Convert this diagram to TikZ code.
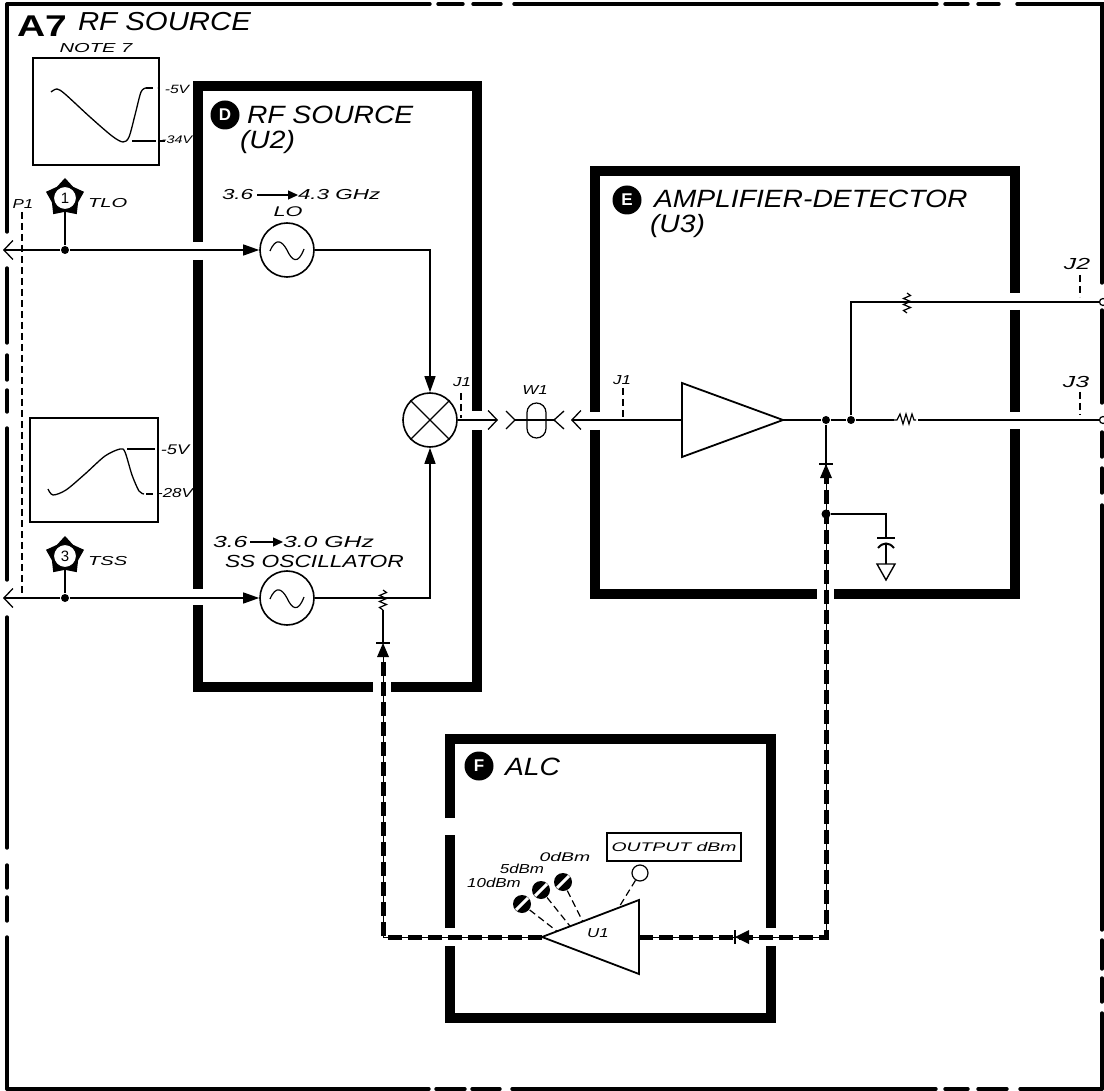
\documentclass[tikz,border=0pt]{standalone}
\usepackage{fontspec}
\setsansfont{Liberation Sans}
\newfontfamily\titlefont[FakeStretch=1.13]{Liberation Sans}
\newfontfamily\letterfont[FakeStretch=1.3]{Liberation Sans}
\newfontfamily\widefont[FakeStretch=1.55]{Liberation Sans}
\usetikzlibrary{arrows.meta, calc, shapes.geometric}
\newcommand{\lettering}[1]{\letterfont\itshape\fontsize{#1}{#1}\selectfont}
\newcommand{\titling}[1]{\titlefont\itshape\fontsize{#1}{#1}\selectfont}
\newcommand{\wideletter}[1]{\widefont\itshape\fontsize{#1}{#1}\selectfont}
\tikzset{
  every picture/.style={line width=1.3pt},
  lbl/.style={font=\lettering{#1}, inner sep=0pt, outer sep=0pt, align=left},
  lbl/.default=14,
  ttl/.style={font=\titling{#1}, inner sep=0pt, outer sep=0pt, align=left},
  wlbl/.style={font=\wideletter{#1}, inner sep=0pt, outer sep=0pt, align=left},
  frameline/.style={line width=3.4pt, line cap=round},
  wall/.style={line width=10pt},
  sig/.style={line width=1.3pt},
  tip/.style={-{Triangle[length=16pt, width=11pt]}},
  barb/.style={-{Straight Barb[length=9pt, width=19pt, line width=1.3pt]}},
  freqarrow/.style={line width=1.3pt, -{Triangle[length=10pt, width=9pt]}},
  probe/.style={line width=1.2pt, dash pattern=on 7pt off 4pt},
  alcline/.style={line width=1pt, postaction={draw, line width=5pt, dash pattern=on 14pt off 6pt}},
  dot/.style={circle, fill=black, inner sep=0pt, minimum size=8pt},
  osc/.style={circle, draw, line width=1.6pt, fill=white, inner sep=0pt, minimum size=54pt},
  badge/.style={circle, fill=black, text=white, inner sep=0pt, minimum size=#1, font=\sffamily\bfseries\fontsize{17}{17}\selectfont},
  badge/.default=29pt,
  scopebox/.style={draw, line width=1.5pt, inner sep=0pt},
  ampshape/.style={draw, line width=1.8pt, isosceles triangle, isosceles triangle stretches, inner sep=0pt, outer sep=0pt},
  tpstar/.style={star, star points=5, star point ratio=1.45, fill=black, inner sep=0pt, minimum size=40pt},
  tpface/.style={circle, draw, fill=white, line width=1pt, inner sep=0pt, minimum size=23pt, font=\sffamily\fontsize{15}{15}\selectfont},
  screw/.style={circle, fill=black, inner sep=0pt, minimum size=18pt},
}
% small parts that sit on a line
\newcommand{\vresistor}[2]{
  \draw[line width=1.2pt, fill=none] (#1,#2-10) -- ++(3.5,2.5) -- ++(-7,3) -- ++(7,3) -- ++(-7,3) -- ++(7,3) -- ++(-7,3) -- ++(3.5,2.5);
}
\newcommand{\oscwave}[1]{
  \draw[line width=1.2pt] ($(#1)+(-17,1)$) .. controls ($(#1)+(-11,-13)$) and ($(#1)+(-5,-9)$) .. (#1.center) .. controls ($(#1)+(5,11)$) and ($(#1)+(11,15)$) .. ($(#1)+(17,-1)$);
}
\newcommand{\diodeup}[2]{
  \fill (#1-6,#2+14) -- (#1,#2) -- (#1+6,#2+14) -- cycle;
  \draw[line width=1.2pt] (#1-7,#2) -- (#1+7,#2);
}

\begin{document}
\begin{tikzpicture}[x=1pt, y=-1pt]
  \useasboundingbox (0,0) rectangle (1104,1091);
  % outer assembly frame
  \foreach \a/\b in {7/430, 438/463, 473/501, 514/937, 945/968, 978/999, 1017/1104}
    { \draw[frameline] (\a,4) -- (\b,4); }
  \foreach \a/\b in {7/429, 436/465, 472/500, 512/936, 945/968, 978/1007, 1020/1102}
    { \draw[frameline] (\a,1089) -- (\b,1089); }
  \foreach \a/\b in {4/232, 268/343, 355/380, 390/412, 428/580, 617/848, 865/888, 897/921, 937/1089}
    { \draw[frameline] (7,\a) -- (7,\b); }
  \foreach \a/\b in {4/283, 310/403, 432/457, 468/493, 505/930, 940/969, 978/1002, 1013/1089}
    { \draw[frameline] (1102,\a) -- (1102,\b); }
  \node[font=\letterfont\bfseries\fontsize{30}{30}\selectfont, inner sep=0pt] (titlea) at (42,26) {A7};
  \node[ttl=26, anchor=west] (titlesrc) at (78,22) {RF SOURCE};
  % walls of the three modules
  \draw[wall] (198,242) -- (198,86) -- (476.5,86) -- (476.5,411);
  \draw[wall] (198,260) -- (198,589);
  \draw[wall] (198,605) -- (198,687) -- (373,687);
  \draw[wall] (391,687) -- (476.5,687) -- (476.5,430);
  \draw[wall] (595,412) -- (595,171) -- (1015,171) -- (1015,293);
  \draw[wall] (1015,310) -- (1015,412);
  \draw[wall] (595,430) -- (595,594) -- (817,594);
  \draw[wall] (834,594) -- (1015,594) -- (1015,429);
  \draw[wall] (450,818) -- (450,739) -- (771,739) -- (771,928);
  \draw[wall] (450,835) -- (450,928);
  \draw[wall] (450,946) -- (450,1018) -- (771,1018) -- (771,946);
  % module names
  \node[badge] (badged) at (225,115) {D};
  \node[ttl=25, anchor=west] (named) at (247,115) {RF SOURCE};
  \node[ttl=25, anchor=west] (namedu) at (240,142) {(U2)};
  \node[badge] (badgee) at (627,200) {E};
  \node[ttl=25, anchor=west] (namee) at (654,199) {AMPLIFIER-DETECTOR};
  \node[ttl=25, anchor=west] (nameeu) at (650,226) {(U3)};
  \node[badge] (badgef) at (479,766) {F};
  \node[ttl=25, anchor=west] (namef) at (505,767) {ALC};
  % scope traces
  \node[wlbl=13] (notes) at (96,48) {NOTE 7};
  \node[scopebox, minimum width=126pt, minimum height=107pt] (scopetlo) at (96,111.5) {};
  \draw plot[smooth] coordinates {(51,92) (57,89) (65,94) (90,117) (112,136) (123,142) (129,137) (135,115) (141,92) (146,88)};
  \draw[probe] (146,88) -- (157,88);
  \draw (132,141) -- (156,141);
  \draw[line width=1.2pt] (160,141) -- (165,141);
  \node[lbl=12] (vhi) at (177,89) {-5V};
  \node[lbl=11] (vlo) at (177,140) {-34V};
  \node[scopebox, minimum width=128pt, minimum height=104pt] (scopetss) at (94,470) {};
  \draw plot[smooth] coordinates {(48,489) (53,495) (66,490) (85,474) (105,456) (120,449) (125,452) (132,475) (139,491) (144,494)};
  \draw[probe] (146,494) -- (156,494);
  \draw (127,449) -- (155,449);
  \node[lbl=14] (vhb) at (175,450) {-5V};
  \node[lbl=13] (vlb) at (175,493) {-28V};
  % oscillators and mixer
  \node[osc] (lo) at (287,250) {};
  \node[osc] (ss) at (287,598) {};
  \node[osc] (mixer) at (430,420) {};
  \oscwave{lo}
  \oscwave{ss}
  \draw[line width=1.2pt] (mixer.45) -- (mixer.225) (mixer.135) -- (mixer.315);
  \node[wlbl=14.5, anchor=west] (lofa) at (222,195) {3.6};
  \node[wlbl=14.5, anchor=west] (lofb) at (298,195) {4.3 GHz};
  \draw[freqarrow] (lofa.east) ++(4,0) -- (lofb.west);
  \node[wlbl=14] (lolbl) at (288,212) {LO};
  \node[wlbl=16, anchor=west] (ssfa) at (213,542) {3.6};
  \node[wlbl=16, anchor=west] (ssfb) at (283,542) {3.0 GHz};
  \draw[freqarrow] (ssfa.east) ++(3,0) -- (ssfb.west);
  \node[lbl=17.5, anchor=west] (sslbl) at (225,561) {SS OSCILLATOR};
  % test points and the P1 cable
  \node[lbl=13] (pone) at (23,204) {P1};
  \draw[probe] (22,212) -- (22,597);
  \foreach \n/\t/\y/\l/\v in {tlo/1/198/TLO/250, tss/3/556/TSS/598}
    {
      \node[tpstar] (\n) at (65,\y) {};
      \node[dot] (d\n) at (65,\v) {};
      \draw (\n) -- (d\n);
      \node[tpface] (f\n) at (\n) {\t};
      \node[wlbl=13, anchor=west] (l\n) at (88,\y+5) {\l};
    }
  \coordinate (ploa) at (3,250);
  \coordinate (pssa) at (3,598);
  \draw[sig, barb] (dtlo) -- (ploa);
  \draw[sig, barb] (dtss) -- (pssa);
  \draw[sig, tip] (dtlo) -- (lo);
  \draw[sig, tip] (dtss) -- (ss);
  \draw[sig, tip] (lo) -| (mixer);
  \draw[sig, tip] (ss) -| (mixer);
  \vresistor{383}{600}
  % cable W1
  \coordinate (mixout) at (498,420);
  \coordinate (ampin) at (571,420);
  \coordinate (wleft) at (515,420);
  \coordinate (wright) at (554,420);
  \draw[sig, barb] (mixer) -- (mixout);
  \node[draw, line width=1.2pt, rounded corners=9.5pt, minimum width=19pt, minimum height=35pt, inner sep=0pt] (wone) at (536.5,420.5) {};
  \draw[sig] (wleft) -- (wright);
  \draw[sig] ($(wleft)+(-9,-9)$) -- (wleft) -- ($(wleft)+(-9,9)$);
  \draw[sig] ($(wright)+(10,-9)$) -- (wright) -- ($(wright)+(10,9)$);
  \node[lbl=13] (wlbl) at (535,390) {W1};
  \node[lbl=13] (jda) at (462,382) {J1};
  \draw[probe] (461,393) -- (461,418);
  \node[lbl=13] (jea) at (622,380) {J1};
  \draw[probe] (623,388) -- (623,420);
  % amplifier and its outputs
  \node[ampshape, minimum height=101pt, minimum width=74pt, anchor=apex] (amp) at (783,420) {};
  \draw[sig, barb] (amp.lower side) -- (ampin);
  \node[dot] (tap) at (826,420) {};
  \node[dot] (split) at (851,420) {};
  \node[circle, draw, fill=white, line width=1.2pt, inner sep=0pt, minimum size=7pt] (jtwo) at (1103,302) {};
  \node[circle, draw, fill=white, line width=1.2pt, inner sep=0pt, minimum size=7pt] (jthree) at (1103,420) {};
  \draw[sig] (amp.apex) -- (tap) -- (split) -- (jthree);
  \draw[sig] (split) |- (jtwo);
  \vresistor{907}{303}
  \draw[line width=1.2pt, fill=white, draw=white] (895,422) rectangle (917,418);
  \draw[line width=1.2pt] (893,420) -- ++(4,0) -- ++(3,-6) -- ++(3,10) -- ++(3,-10) -- ++(3,10) -- ++(3,-10) -- ++(2,6) -- ++(2,0);
  \node[wlbl=16] (jtwol) at (1077,264) {J2};
  \draw[probe] (1080,275) -- (1080,297);
  \node[wlbl=16] (jthreel) at (1076,382) {J3};
  \draw[probe] (1080,392) -- (1080,415);
  % detector branch
  \node[dot, minimum size=9pt] (det) at (826,514) {};
  \coordinate (capg) at (886,514);
  \node[draw, line width=1.4pt, isosceles triangle, isosceles triangle stretches, shape border rotate=270, minimum width=18pt, minimum height=16pt, inner sep=0pt, outer sep=0pt, anchor=lower side] (gnd) at (886,564) {};
  \draw[line width=1.3pt] (det) -- (capg) -- (886,538);
  \draw[line width=2pt] (877,538) -- (895,538);
  \draw[line width=2pt] (878,548) .. controls (883,542) and (889,542) .. (894,548);
  \draw[line width=1.3pt] (886,544) -- (gnd.lower side);
  \draw[sig] (tap) -- (826,466);
  \diodeup{826}{464}
  \draw[sig] (383,610) -- (383,643);
  \diodeup{383}{643}
  % ALC
  \node[ampshape, shape border rotate=180, minimum height=97pt, minimum width=74pt, anchor=apex] (alc) at (542,937) {};
  \node[lbl=13] (ulbl) at (598,933) {U1};
  \coordinate (dioleft) at (383,657);
  \coordinate (dioright) at (826,477);
  \draw[alcline] (alc.apex) -| (dioleft);
  \draw[alcline] (alc.lower side) -| (dioright);
  \fill (735,937) -- (749,930) -- (749,944) -- cycle;
  \draw[line width=1.2pt] (735,930) -- (735,944);
  \foreach \n/\x/\y/\t in {sa/522/904/0.155, sb/541/890/0.29, sc/563/882/0.42}
    {
      \node[screw] (\n) at (\x,\y) {};
      \draw[white, line width=3pt] ($(\n)+(-6,6)$) -- ($(\n)+(6,-6)$);
      \coordinate (e\n) at ($(alc.apex)!\t!(alc.right corner)$);
      \draw[probe] (\n) -- (e\n);
    }
  \node[circle, draw, line width=1.2pt, inner sep=0pt, minimum size=16pt] (outtp) at (640,873) {};
  \coordinate (eout) at ($(alc.apex)!0.79!(alc.right corner)$);
  \draw[probe] (outtp) -- (eout);
  \node[draw, line width=1.3pt, minimum width=134pt, minimum height=28pt, wlbl=12.5, inner sep=0pt] (outbox) at (674,847) {OUTPUT dBm};
  \node[lbl=13] (la) at (494,883) {10dBm};
  \node[lbl=13] (lb) at (522,869) {5dBm};
  \node[wlbl=12.5] (lc) at (565,857) {0dBm};
\end{tikzpicture}
\end{document}
